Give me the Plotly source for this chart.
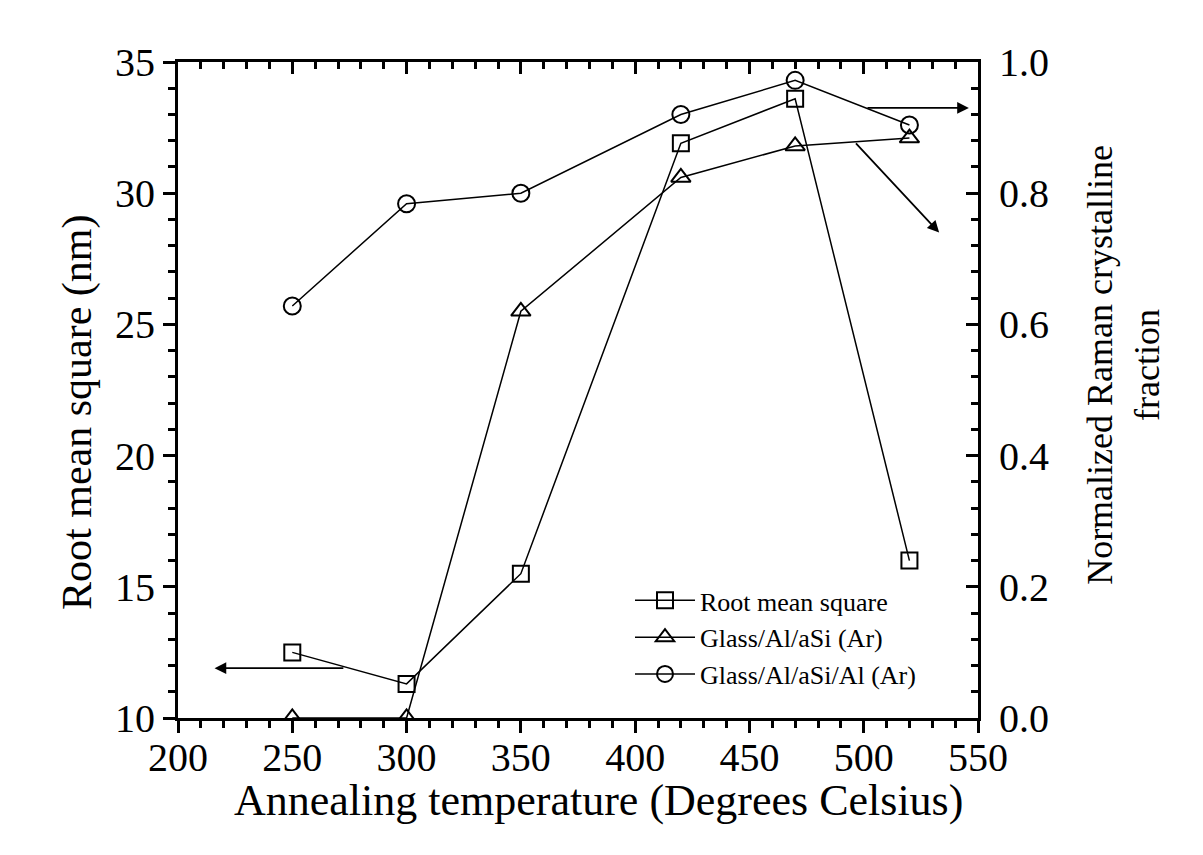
import plotly.graph_objects as go

temps = [250, 300, 350, 420, 470, 520]
rms_nm = [12.5, 11.3, 15.5, 31.9, 33.6, 16.0]
frac_al_asi = [0.0, 0.0, 0.62, 0.824, 0.872, 0.884]
frac_al_asi_al = [0.628, 0.784, 0.80, 0.92, 0.972, 0.904]

x_ticks = [200, 250, 300, 350, 400, 450, 500, 550]
y_ticks = [10, 15, 20, 25, 30, 35]
y2_ticks = [0, 0.2, 0.4, 0.6, 0.8, 1.0]
y2_labels = ["0.0", "0.2", "0.4", "0.6", "0.8", "1.0"]

x_title = "Annealing temperature (Degrees Celsius)"
y_title = "Root mean square (nm)"
y2_title = "Normalized Raman crystalline<br>fraction"

FONT = "Liberation Serif, Times New Roman, serif"

fig = go.Figure()
fig.add_trace(go.Scatter(x=temps, y=rms_nm, name="Root mean square", mode="lines+markers",
                         line=dict(color="black", width=1.5),
                         marker=dict(symbol="square-open", size=16, color="black", line=dict(width=2))))
fig.add_trace(go.Scatter(x=temps, y=frac_al_asi, name="Glass/Al/aSi (Ar)", mode="lines+markers",
                         yaxis="y2", line=dict(color="black", width=1.5),
                         marker=dict(symbol="triangle-up-open", size=17, color="black", line=dict(width=2))))
fig.add_trace(go.Scatter(x=temps, y=frac_al_asi_al, name="Glass/Al/aSi/Al (Ar)", mode="lines+markers",
                         yaxis="y2", line=dict(color="black", width=1.5),
                         marker=dict(symbol="circle-open", size=17, color="black", line=dict(width=2))))
fig.add_trace(go.Scatter(x=[None], y=[None], xaxis="x2", showlegend=False, hoverinfo="skip"))

tickfont = dict(family=FONT, size=40, color="black")

fig.update_layout(
    width=1203, height=855,
    margin=dict(l=178, r=225, t=62, b=137),
    paper_bgcolor="white", plot_bgcolor="white",
    font=dict(family=FONT, color="black"),
    xaxis=dict(range=[200, 550], tickvals=x_ticks,
               ticks="outside", ticklen=12, tickwidth=3, tickcolor="black",
               minor=dict(dtick=10, ticks="outside", ticklen=7, tickwidth=2.5, tickcolor="black"),
               showline=True, linecolor="black", linewidth=3, showgrid=False, zeroline=False,
               tickfont=tickfont, ticklabelstandoff=-10),
    xaxis2=dict(range=[200, 550], overlaying="x", side="top", tickvals=x_ticks,
                ticks="inside", ticklen=12, tickwidth=3, tickcolor="black", showticklabels=False,
                minor=dict(dtick=10, ticks="inside", ticklen=7, tickwidth=2.5, tickcolor="black"),
                showline=True, linecolor="black", linewidth=3, showgrid=False, zeroline=False),
    yaxis=dict(range=[10, 35], tickvals=y_ticks,
               ticks="outside", ticklen=12, tickwidth=3, tickcolor="black",
               minor=dict(dtick=1, ticks="outside", ticklen=7, tickwidth=2.5, tickcolor="black"),
               showline=True, linecolor="black", linewidth=3, showgrid=False, zeroline=False,
               tickfont=tickfont),
    yaxis2=dict(range=[0, 1], overlaying="y", side="right",
                tickvals=y2_ticks, ticktext=y2_labels,
                ticks="inside", ticklen=12, tickwidth=3, tickcolor="black",
                minor=dict(dtick=0.04, ticks="inside", ticklen=7, tickwidth=2.5, tickcolor="black"),
                showline=True, linecolor="black", linewidth=3, showgrid=False, zeroline=False,
                tickfont=tickfont, ticklabelstandoff=10),
    legend=dict(x=0.565, y=0.215, xanchor="left", yanchor="top", bgcolor="rgba(0,0,0,0)",
                font=dict(family=FONT, size=26, color="black"), tracegroupgap=0, itemwidth=60),
    showlegend=True,
)

# axis titles
fig.add_annotation(text=x_title, xref="paper", yref="paper", x=0.525, y=-0.125,
                   xanchor="center", yanchor="middle", showarrow=False,
                   font=dict(family=FONT, size=44, color="black"))
fig.add_annotation(text=y_title, xref="paper", yref="paper", x=-0.125, y=0.465, textangle=-90,
                   xanchor="center", yanchor="middle", showarrow=False,
                   font=dict(family=FONT, size=42, color="black"))
fig.add_annotation(text=y2_title, xref="paper", yref="paper", x=1.181, y=0.538, textangle=-90,
                   xanchor="center", yanchor="middle", showarrow=False,
                   font=dict(family=FONT, size=36, color="black"))

arrows = [
    dict(x=216, y=11.9, ax=273, ay=11.9),
    dict(x=546, y=33.25, ax=501, ay=33.25),
    dict(x=533, y=28.5, ax=496, ay=31.96),
]
for a in arrows:
    fig.add_annotation(x=a["x"], y=a["y"], ax=a["ax"], ay=a["ay"], xref="x", yref="y",
                       axref="x", ayref="y", showarrow=True, arrowhead=2, arrowsize=1.3,
                       arrowwidth=1.8, arrowcolor="black", text="")

fig.write_html("out.html")
